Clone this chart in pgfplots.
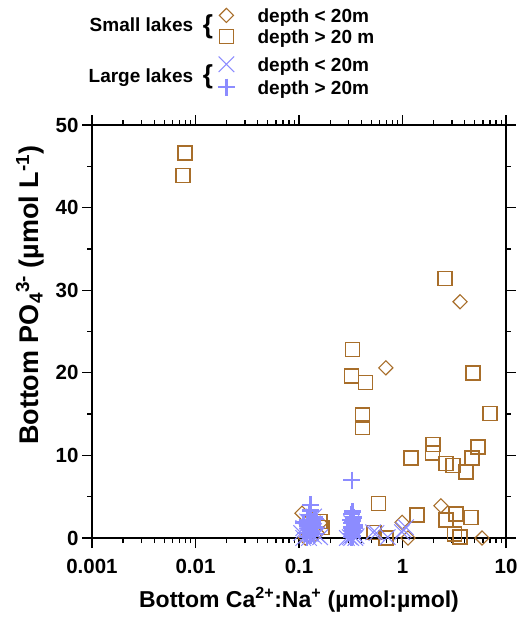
\documentclass[border=0pt]{standalone}
\usepackage{pgfplots}
\pgfplotsset{compat=1.18}
\usepackage{fontspec}
\setmainfont{Liberation Sans}
\definecolor{brn}{RGB}{168,110,42}
\definecolor{lblue}{RGB}{140,140,255}
\pgfplotsset{
  limg/.style={legend image code/.code={\draw[##1,#1] plot coordinates {(0pt,7pt)}; \path (-9pt,7pt) (31pt,7pt);}}
}
\begin{document}
\begin{tikzpicture}
\useasboundingbox (-92pt,-83pt) rectangle (427pt,538pt);
\begin{axis}[
  scale only axis, width=414pt, height=413pt,
  xmode=log, xmin=0.001, xmax=10, ymin=0, ymax=50,
  clip=false,
  xtick={0.001,0.01,0.1,1,10}, xticklabels={0.001,0.01,0.1,1,10},
  minor xtick={0.002,0.003,0.004,0.005,0.006,0.007,0.008,0.009,
               0.02,0.03,0.04,0.05,0.06,0.07,0.08,0.09,
               0.2,0.3,0.4,0.5,0.6,0.7,0.8,0.9,
               2,3,4,5,6,7,8,9},
  ytick={0,10,20,30,40,50}, minor ytick={5,15,25,35,45},
  tick align=outside, major tick length=10pt, minor tick length=5pt,
  axis line style={line width=1.3pt},
  every tick/.style={line width=1.3pt, black},
  /pgf/number format/assume math mode=true,
  ticklabel style={font=\fontsize{20.5}{23}\selectfont\bfseries},
  xticklabel style={yshift=-8pt},
  xlabel={Bottom Ca\textsuperscript{2+}:Na\textsuperscript{+} (µmol:µmol)},
  ylabel={Bottom PO\textsubscript{4}\textsuperscript{3-} (µmol L\textsuperscript{-1})},
  xlabel style={font=\fontsize{23}{26}\selectfont\bfseries, at={(axis description cs:0.5,-0.150)}, anchor=center},
  ylabel style={font=\fontsize{27}{30}\selectfont\bfseries, at={(axis description cs:-0.150,0.588)}, anchor=center},
  legend style={draw=none, fill=none, inner sep=0pt,
    at={(axis description cs:0.302,1.283)}, anchor=north west,
    font=\fontsize{19}{22}\selectfont\bfseries,
    nodes={inner sep=0pt, text depth=}, cells={anchor=base west},
    row sep=0pt, column sep=0pt},
]
% Small lakes, depth < 20 m
\addplot[brn, only marks, mark=square, mark size=5pt, mark options={rotate=45, line width=1.1pt, brn}, limg=brn] coordinates {
(0.69,20.6)(3.6,28.6)(2.35,3.9)(0.99,1.9)(1.13,0.0)(5.87,0.0)
(0.107,3.0)(0.16,1.8)(0.15,0.6)(0.115,0.0)(0.13,2.4)(0.14,0.3)
};
\addlegendentry{depth < 20m\rule[-7.3pt]{0pt}{17.8pt}}
% Small lakes, depth > 20 m
\addplot[brn, only marks, mark=square, mark size=7pt, mark options={line width=1.4pt, brn}, limg=brn] coordinates {
(0.0079,46.6)(0.0076,43.9)(0.33,22.8)(0.32,19.6)(0.44,18.8)(0.41,14.9)(0.41,13.4)
(2.58,31.4)(4.8,20.0)(7.0,15.1)(1.97,11.3)(1.95,10.3)(1.21,9.7)(2.63,9.0)
(3.08,8.8)(4.1,8.0)(4.7,9.7)(5.36,11.0)(0.59,4.2)(1.38,2.8)(3.29,2.9)
(4.59,2.5)(2.63,2.2)(3.2,0.5)(3.6,0.1)(0.53,0.7)(0.69,0.0)(0.167,1.3)(0.16,2.0)
};
\addlegendentry{depth > 20 m\rule[-12.8pt]{0pt}{17.8pt}}
% Large lakes, depth < 20 m
\addplot[lblue, only marks, mark=x, mark size=11pt, mark options={line width=1.0pt, lblue}, limg=lblue] coordinates {
(0.11,0.0)(0.12,0.3)(0.13,0.5)(0.14,0.2)(0.11,1.2)(0.12,2.0)(0.15,0.4)(0.16,0.1)
(0.135,1.0)(0.125,0.0)(0.105,0.6)(0.13,1.6)(0.14,2.6)
(0.29,0.0)(0.32,0.0)(0.33,0.3)(0.34,0.6)(0.31,0.1)(0.36,0.2)(0.33,1.1)(0.32,1.8)(0.35,0.0)
(0.52,0.7)(0.56,0.6)(0.72,0.1)(0.99,0.7)(1.02,1.0)(1.08,1.3)
};
\addlegendentry{depth < 20m\rule[-7.3pt]{0pt}{17.8pt}}
% Large lakes, depth > 20 m
\addplot[lblue, only marks, mark=+, mark size=8.5pt, mark options={line width=2.6pt, lblue}, limg=lblue] coordinates {
(0.13,4.0)(0.13,3.3)(0.125,2.8)(0.14,2.5)(0.12,2.2)(0.135,2.0)(0.13,1.8)(0.12,1.5)
(0.14,1.3)(0.125,1.0)(0.13,0.8)(0.115,0.6)(0.14,0.5)(0.13,0.3)(0.12,0.1)(0.135,1.6)
(0.145,2.3)(0.11,1.9)
(0.325,7.0)(0.33,3.2)(0.32,2.9)(0.335,2.5)(0.33,2.1)(0.325,1.8)(0.34,1.5)(0.32,1.3)
(0.33,1.0)(0.335,0.8)(0.325,0.5)(0.33,0.2)(0.32,0.1)(0.345,1.2)(0.315,2.2)
};
\addlegendentry{depth > 20m\rule[-7.3pt]{0pt}{17.8pt}}
\node[anchor=base east, font=\fontsize{19}{22}\selectfont\bfseries] at (axis description cs:0.253,1.2276) {Small lakes};
\node[anchor=base east, font=\fontsize{19}{22}\selectfont\bfseries] at (axis description cs:0.253,1.1017) {Large lakes};
\node[anchor=center, inner sep=0pt, font=\fontsize{26}{28}\selectfont\bfseries] at (axis description cs:0.280,1.2373) {\{};
\node[anchor=center, inner sep=0pt, font=\fontsize{26}{28}\selectfont\bfseries] at (axis description cs:0.280,1.1162) {\{};
\end{axis}
\end{tikzpicture}
\end{document}
